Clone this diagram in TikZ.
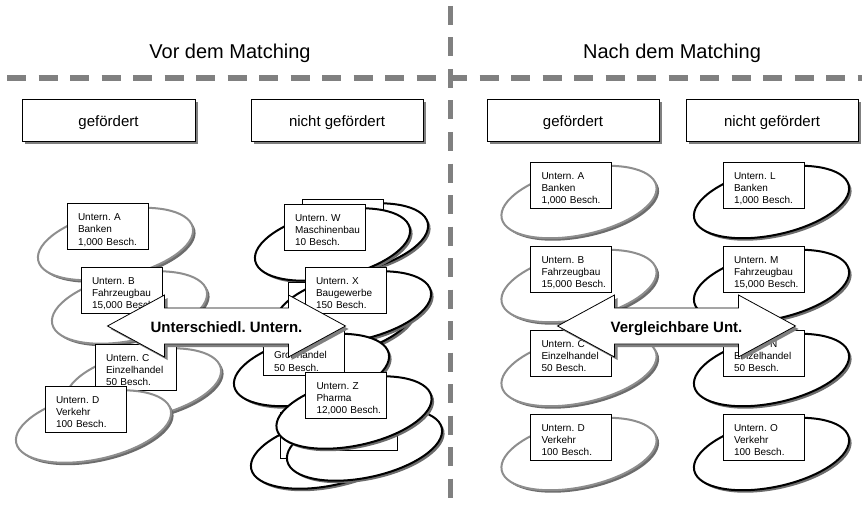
\documentclass[tikz,border=0pt]{standalone}
\usepackage{fontspec}
\setmainfont{Liberation Sans}
\usetikzlibrary{shapes.geometric,shadows,calc}
\pgfdeclarelayer{bg}
\pgfsetlayers{bg,main}
\definecolor{dashgray}{HTML}{808080}
\definecolor{ellgray}{HTML}{8E8E8E}
\definecolor{shgray}{HTML}{6C6C6C}
\tikzset{
  gdash/.style={draw=dashgray, line width=5.5pt, dash pattern=on 19pt off 12.5pt},
  hbox/.style={draw=black, line width=0.8pt, fill=white, minimum width=172pt,
    minimum height=42pt, inner sep=0pt, font=\fontsize{15}{18}\selectfont,
    text height=13.4pt, text depth=0pt,
    drop shadow={shadow xshift=3pt, shadow yshift=-3pt, fill=dashgray, opacity=1}},
  ubox/.style={draw=black, line width=0.7pt, fill=white, minimum width=81pt,
    minimum height=46pt, text width=59pt, inner xsep=11pt, inner ysep=2pt, align=left,
    font=\fontsize{10}{12.3}\selectfont,
    text height=7.5pt, text depth=19.5pt},
  gell/.style={ellipse, draw=ellgray, line width=2pt, fill=white, minimum width=158pt,
    minimum height=66pt, inner sep=0pt, rotate=12,
    drop shadow={shadow xshift=2.5pt, shadow yshift=-2.5pt, fill=shgray, opacity=1}},
  bell/.style={gell, draw=black},
  conn/.style={line width=4pt, draw=black},
  connsh/.style={line width=4pt, draw=dashgray},
  barrow/.style={draw=black, line width=0.8pt, fill=white,
    drop shadow={shadow xshift=3pt, shadow yshift=-3pt, fill=dashgray, opacity=1}},
  atext/.style={font=\fontsize{15}{18}\selectfont\bfseries, anchor=base, inner sep=0pt},
  title/.style={font=\fontsize{20}{24}\selectfont, anchor=base, inner sep=0pt},
}
\begin{document}
\frenchspacing
\hyphenpenalty=10000
\exhyphenpenalty=10000
\hbadness=10000
\hfuzz=50pt
\begin{tikzpicture}[x=1pt,y=-1pt]
\useasboundingbox (0,0) rectangle (862,508);
\fill[white] (0,0) rectangle (862,508);

% dashed separators
\coordinate (vtop) at (450.5,6);
\coordinate (vbot) at (450.5,508);
\coordinate (hl) at (7,78);
\coordinate (hr) at (862,78);
\draw[gdash] (vtop) -- (vbot);
\draw[gdash] (hl) -- (hr);

% titles
\node[title] (t1) at (230,59) {Vor dem Matching};
\node[title] (t2) at (672,59) {Nach dem Matching};

% header boxes
\node[hbox, minimum width=173pt] (h1) at (108.5,120) {gefördert};
\node[hbox] (h2) at (337,120) {nicht gefördert};
\node[hbox] (h3) at (573,120) {gefördert};
\node[hbox] (h4) at (772,120) {nicht gefördert};

% ---------- left panel: gefördert ----------
\node[gell] (eA) at (115.5,244) {};
\node[ubox] (bA) at (107.5,226.5) {Untern.~A\\Banken\\1,000~Besch.};
\node[gell] (eB) at (129.5,307.5) {};
\node[ubox] (bB) at (121.5,290) {Untern.~B\\Fahrzeugbau\\15,000~Besch.};
\node[gell] (eC) at (143.5,384.5) {};
\node[ubox] (bC) at (135.5,367) {Untern.~C\\Einzelhandel\\50~Besch.};
\node[gell] (eD) at (93.5,426.5) {};
\node[ubox] (bD) at (85.5,409) {Untern.~D\\Verkehr\\100~Besch.};

% ---------- left panel: nicht gefördert ----------
\node[bell] (eWb) at (350.5,239.5) {};
\node[ubox] (bWb) at (342.5,222) {};
\node[bell] (eW) at (332.5,244.5) {};
\node[ubox] (bW) at (324.5,227) {Untern.~W\\Maschinenbau\\10~Besch.};
\node[bell] (eXb) at (336.5,322.5) {};
\node[ubox] (bXb) at (328.5,305) {};
\node[bell] (eX) at (353.5,307.5) {};
\node[ubox] (bX) at (345.5,290) {Untern.~X\\Baugewerbe\\150~Besch.};
\node[bell] (eY) at (311.5,370) {};
\node[ubox] (bY) at (303.5,352.5) {\mbox{}\\Großhandel\\50~Besch.};
\node[bell] (eZa) at (328.5,452.5) {};
\node[ubox] (bZa) at (320.5,435) {};
\node[bell] (eZb) at (364.5,444.5) {};
\node[ubox] (bZb) at (356.5,427) {};
\node[bell] (eZ) at (354,412.5) {};
\node[ubox] (bZ) at (346,395) {Untern.~Z\\Pharma\\12,000~Besch.};

% left arrow
\draw[barrow, shift={(226.5,326)}] (-119,0) -- (-62,-31) -- (-62,-18) -- (62,-18)
  -- (62,-31) -- (119,0) -- (62,31) -- (62,18) -- (-62,18) -- (-62,31) -- cycle;
\node[atext] (tL) at (226.5,332.5) {Unterschiedl. Untern.};

% ---------- right panel ----------
\node[gell] (rA) at (579,202) {};
\node[ubox] (rbA) at (571,185) {Untern.~A\\Banken\\1,000~Besch.};
\node[bell] (rL) at (771.5,202) {};
\node[ubox] (rbL) at (763.5,185) {Untern.~L\\Banken\\1,000~Besch.};
\node[gell] (rB) at (579,286) {};
\node[ubox] (rbB) at (571,269) {Untern.~B\\Fahrzeugbau\\15,000~Besch.};
\node[bell] (rM) at (771.5,286) {};
\node[ubox] (rbM) at (763.5,269) {Untern.~M\\Fahrzeugbau\\15,000~Besch.};
\node[gell] (rC) at (579,370) {};
\node[ubox] (rbC) at (571,353) {Untern.~C\\Einzelhandel\\50~Besch.};
\node[bell] (rN) at (771.5,370) {};
\node[ubox] (rbN) at (763.5,353) {Untern.~N\\Einzelhandel\\50~Besch.};
\node[gell] (rD) at (579,454) {};
\node[ubox] (rbD) at (571,437) {Untern.~D\\Verkehr\\100~Besch.};
\node[bell] (rO) at (771.5,454) {};
\node[ubox] (rbO) at (763.5,437) {Untern.~O\\Verkehr\\100~Besch.};

\begin{pgfonlayer}{bg}
\foreach \a/\b in {rA/rL, rB/rM, rC/rN, rD/rO} {
  \draw[connsh] ([yshift=1.5pt]\a.center) -- ([yshift=1.5pt]\b.center);
  \draw[conn] ([yshift=4pt]\a.center) -- ([yshift=4pt]\b.center);
}
\end{pgfonlayer}

% right arrow
\draw[barrow, shift={(676.5,326)}] (-119,0) -- (-62,-31) -- (-62,-18) -- (62,-18)
  -- (62,-31) -- (119,0) -- (62,31) -- (62,18) -- (-62,18) -- (-62,31) -- cycle;
\node[atext] (tR) at (676.5,332.5) {Vergleichbare Unt.};
\end{tikzpicture}
\end{document}
